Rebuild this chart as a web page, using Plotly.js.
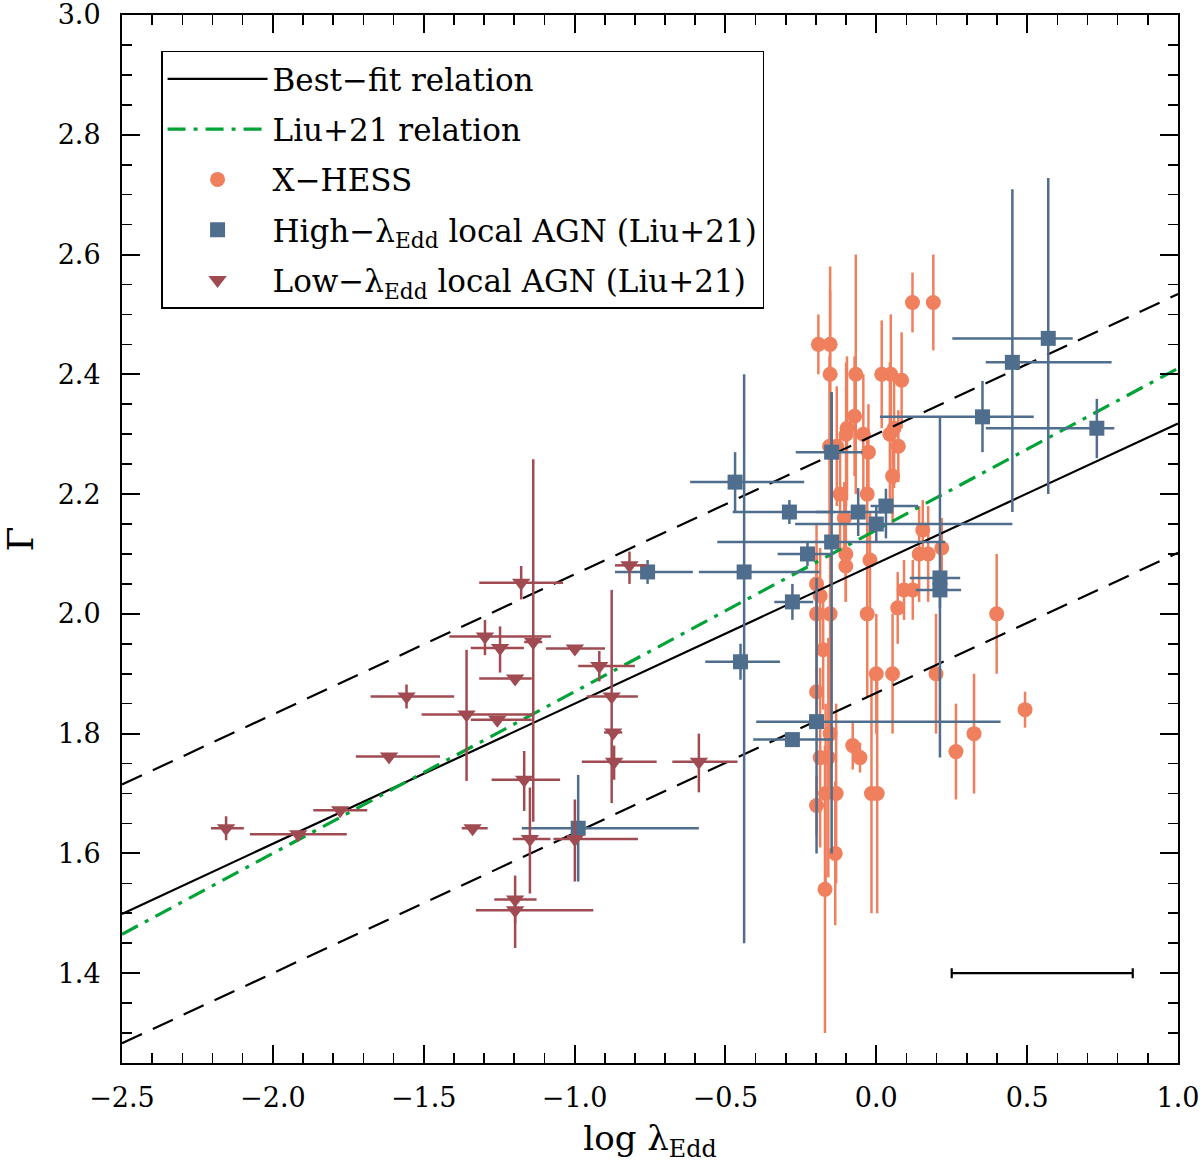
<!DOCTYPE html>
<html>
<head>
<meta charset="utf-8">
<script src="https://cdn.plot.ly/plotly-3.0.1.min.js"></script>
<style>html,body{margin:0;padding:0;background:#fff;}#chart{width:1200px;height:1163px;}</style>
</head>
<body>
<div id="chart"></div>
<script>
// ---- Fit relations ----
const fitSlope = 0.234, fitIntercept = 2.084, fitScatter = 0.216;
const liuSlope = 0.27, liuIntercept = 2.14;
const lineX = [-2.5, 1.0];

// ---- X-HESS ----
const xhessX = [-0.192,-0.153,-0.153,-0.068,0.018,0.048,0.084,0.120,0.189,-0.072,-0.097,-0.100,-0.043,0.059,0.045,-0.026,-0.155,-0.131,0.073,0.054,-0.120,-0.030,-0.106,0.154,0.217,-0.101,-0.101,-0.021,0.142,0.172,-0.198,-0.186,-0.198,-0.153,-0.030,0.092,0.121,0.071,0.399,-0.176,0.000,0.054,0.198,-0.198,0.493,-0.153,-0.078,-0.054,-0.186,-0.159,0.264,0.324,-0.168,-0.133,-0.016,0.003,-0.198,-0.136,-0.170];
const xhessY = [2.45,2.45,2.40,2.40,2.40,2.40,2.39,2.52,2.52,2.33,2.31,2.30,2.30,2.31,2.30,2.27,2.28,2.28,2.28,2.23,2.20,2.20,2.16,2.14,2.11,2.10,2.08,2.09,2.10,2.10,2.05,2.03,2.00,2.00,2.00,2.04,2.04,2.01,2.00,1.94,1.90,1.90,1.90,1.87,1.84,1.80,1.78,1.76,1.76,1.76,1.77,1.80,1.70,1.70,1.70,1.70,1.68,1.60,1.54];
const xhessYerr = [0.05,0.09,0.18,0.20,0.09,0.10,0.08,0.05,0.08,0.10,0.12,0.12,0.10,0.10,0.12,0.08,0.15,0.10,0.06,0.08,0.10,0.10,0.06,0.05,0.05,0.08,0.06,0.08,0.08,0.08,0.10,0.08,0.10,0.10,0.14,0.05,0.05,0.06,0.10,0.10,0.10,0.10,0.10,0.04,0.03,0.10,0.04,0.025,0.15,0.20,0.08,0.10,0.15,0.15,0.20,0.20,0.05,0.12,0.24];

// ---- High-lambda local AGN (Liu+21) ----
const highX = [-0.468,-0.288,-0.060,0.032,0.000,-0.148,-0.148,-0.228,-0.758,-0.438,-0.278,0.211,0.211,-0.450,-0.198,-0.278,-0.988,0.352,0.451,0.570,0.731];
const highY = [2.22,2.17,2.17,2.18,2.15,2.27,2.12,2.10,2.07,2.07,2.02,2.06,2.04,1.92,1.82,1.79,1.642,2.329,2.42,2.46,2.31];
const highXerrMinus = [0.149,0.188,0.14,0.051,0.269,0.119,0.379,0.099,0.108,0.15,0.06,0.10,0.08,0.117,0.20,0.13,0.187,0.34,0.088,0.318,0.368];
const highXerrPlus  = [0.229,0.15,0.08,0.107,0.451,0.102,0.376,0.085,0.15,0.25,0.069,0.067,0.07,0.131,0.61,0.135,0.40,0.17,0.329,0.081,0.058];
const highYerrMinus = [0.05,0.02,0.04,0.054,0.03,0.10,0.52,0.02,0.02,0.62,0.03,0.30,0.03,0.03,0.22,0.01,0.089,0.059,0.25,0.26,0.05];
const highYerrPlus  = [0.05,0.02,0.04,0.029,0.03,0.10,0.25,0.02,0.02,0.33,0.03,0.27,0.03,0.03,0.24,0.01,0.089,0.06,0.289,0.268,0.049];

// ---- Low-lambda local AGN (Liu+21) ----
const lowX = [-2.155,-1.916,-1.777,-1.615,-1.557,-1.358,-1.297,-1.247,-1.256,-1.197,-1.177,-1.137,-0.999,-0.918,-0.818,-0.877,-0.872,-0.869,-0.588,-1.167,-1.338,-1.148,-0.999,-1.197,-1.197];
const lowY = [1.642,1.632,1.672,1.762,1.862,1.832,1.962,1.943,1.823,1.892,2.052,1.953,1.942,1.913,2.081,1.862,1.802,1.753,1.753,1.723,1.642,1.624,1.624,1.523,1.505];
const lowXerrMinus = [0.05,0.16,0.089,0.11,0.119,0.149,0.118,0.097,0.088,0.119,0.139,0.03,0.096,0.07,0.048,0.083,0.03,0.107,0.088,0.108,0.036,0.057,0.071,0.069,0.13];
const lowXerrPlus  = [0.059,0.161,0.09,0.169,0.158,0.216,0.219,0.079,0.114,0.055,0.139,0.03,0.10,0.118,0.056,0.087,0.03,0.141,0.128,0.119,0.05,0.068,0.209,0.071,0.259];
const lowYerrMinus = [0.02,0,0,0,0.02,0.111,0.031,0.041,0,0,0.028,0.30,0,0.026,0.031,0.178,0,0.03,0.051,0.052,0,0.091,0.071,0.04,0.063];
const lowYerrPlus  = [0.02,0,0,0,0.02,0.108,0.028,0.036,0,0,0.028,0.305,0,0.025,0.023,0.178,0,0.027,0.047,0.048,0,0.086,0.066,0.04,0.02];

// ---- Representative error bar ----
const repX = [0.55], repY = [1.40], repXerr = [0.30];

// ---- Axis ticks ----
const xTickVals = [-2.5,-2.0,-1.5,-1.0,-0.5,0.0,0.5,1.0];
const xTickText = ['\u22122.5','\u22122.0','\u22121.5','\u22121.0','\u22120.5','0.0','0.5','1.0'];
const yTickVals = [1.4,1.6,1.8,2.0,2.2,2.4,2.6,2.8,3.0];
const yTickText = ['1.4','1.6','1.8','2.0','2.2','2.4','2.6','2.8','3.0'];

const ORANGE = '#F07F5E', BLUE = '#4F6D8C', RED = '#A04A52', GREEN = '#00A336';
const FONT = 'DejaVu Serif, serif';

const fitY = lineX.map(x => fitIntercept + fitSlope * x);
const fitUp = lineX.map(x => fitIntercept + fitScatter + fitSlope * x);
const fitDn = lineX.map(x => fitIntercept - fitScatter + fitSlope * x);
const liuY = lineX.map(x => liuIntercept + liuSlope * x);

const traces = [
  {x: xhessX, y: xhessY, type: 'scatter', mode: 'markers', name: 'X\u2212HESS', legendrank: 3, legendgroup: 'g3',
   marker: {symbol: 'circle', size: 15, color: ORANGE},
   error_y: {type: 'data', array: xhessYerr, color: ORANGE, thickness: 2.5, width: 0}},
  {x: lineX, y: fitUp, type: 'scatter', mode: 'lines', showlegend: false, hoverinfo: 'skip',
   line: {color: 'black', width: 2.2, dash: '22px,12px'}},
  {x: lineX, y: fitDn, type: 'scatter', mode: 'lines', showlegend: false, hoverinfo: 'skip',
   line: {color: 'black', width: 2.2, dash: '22px,12px'}},
  {x: lineX, y: fitY, type: 'scatter', mode: 'lines', name: 'Best\u2212fit relation', legendrank: 1, legendgroup: 'g1',
   line: {color: 'black', width: 2.2}},
  {x: lineX, y: liuY, type: 'scatter', mode: 'lines', name: 'Liu+21 relation', legendrank: 2, legendgroup: 'g2',
   line: {color: GREEN, width: 3.2, dash: '18px,8px,4px,8px'}},
  {x: highX, y: highY, type: 'scatter', mode: 'markers', name: 'High\u2212\u03bb<sub>Edd</sub> local AGN (Liu+21)', legendrank: 4, legendgroup: 'g4',
   marker: {symbol: 'square', size: 15, color: BLUE},
   error_x: {type: 'data', symmetric: false, array: highXerrPlus, arrayminus: highXerrMinus, color: BLUE, thickness: 2.5, width: 0},
   error_y: {type: 'data', symmetric: false, array: highYerrPlus, arrayminus: highYerrMinus, color: BLUE, thickness: 2.5, width: 0}},
  {x: lowX, y: lowY, type: 'scatter', mode: 'markers', name: 'Low\u2212\u03bb<sub>Edd</sub> local AGN (Liu+21)', legendrank: 5, legendgroup: 'g5',
   marker: {symbol: 'triangle-down', size: 16, color: RED},
   error_x: {type: 'data', symmetric: false, array: lowXerrPlus, arrayminus: lowXerrMinus, color: RED, thickness: 2.5, width: 0},
   error_y: {type: 'data', symmetric: false, array: lowYerrPlus, arrayminus: lowYerrMinus, color: RED, thickness: 2.5, width: 0}},
  {x: repX, y: repY, type: 'scatter', mode: 'markers', showlegend: false, hoverinfo: 'skip',
   marker: {size: 1, color: 'rgba(0,0,0,0)'},
   error_x: {type: 'data', array: repXerr, color: 'black', thickness: 2.2, width: 5}}
];

const axisCommon = {
  showgrid: false, zeroline: false, showline: true, linecolor: 'black', linewidth: 2,
  mirror: 'allticks', ticks: 'inside', ticklen: 18, tickwidth: 2, tickcolor: 'black',
  ticklabeloverflow: 'allow',
  tickfont: {family: FONT, size: 27, color: 'black'}
};

const layout = {
  width: 1200, height: 1163,
  margin: {l: 122, r: 22, t: 15, b: 100},
  paper_bgcolor: 'white', plot_bgcolor: 'white',
  showlegend: true,
  xaxis: Object.assign({}, axisCommon, {
    range: [-2.5, 1.0], tickvals: xTickVals, ticktext: xTickText,
    minor: {dtick: 0.1, ticks: 'inside', ticklen: 10, tickwidth: 1.6, tickcolor: 'black'},
    ticklabelstandoff: 10,
    title: {text: 'log \u03bb<sub>Edd</sub>', font: {family: FONT, size: 34, color: 'black'}, standoff: 28}
  }),
  yaxis: Object.assign({}, axisCommon, {
    range: [1.25, 3.0], tickvals: yTickVals, ticktext: yTickText,
    minor: {dtick: 0.05, ticks: 'inside', ticklen: 10, tickwidth: 1.6, tickcolor: 'black'},
    ticklabelstandoff: 14,
    title: {text: '\u0393', font: {family: FONT, size: 36, color: 'black'}, standoff: 30}
  }),
  legend: {
    x: 0.037, y: 0.966, xanchor: 'left', yanchor: 'top',
    bgcolor: 'white', bordercolor: 'black', borderwidth: 1.5,
    font: {family: FONT, size: 31, color: 'black'},
    itemwidth: 100, tracegroupgap: 7, traceorder: 'grouped'
  }
};

Plotly.newPlot('chart', traces, layout, {displayModeBar: false, staticPlot: true});
</script>
</body>
</html>
